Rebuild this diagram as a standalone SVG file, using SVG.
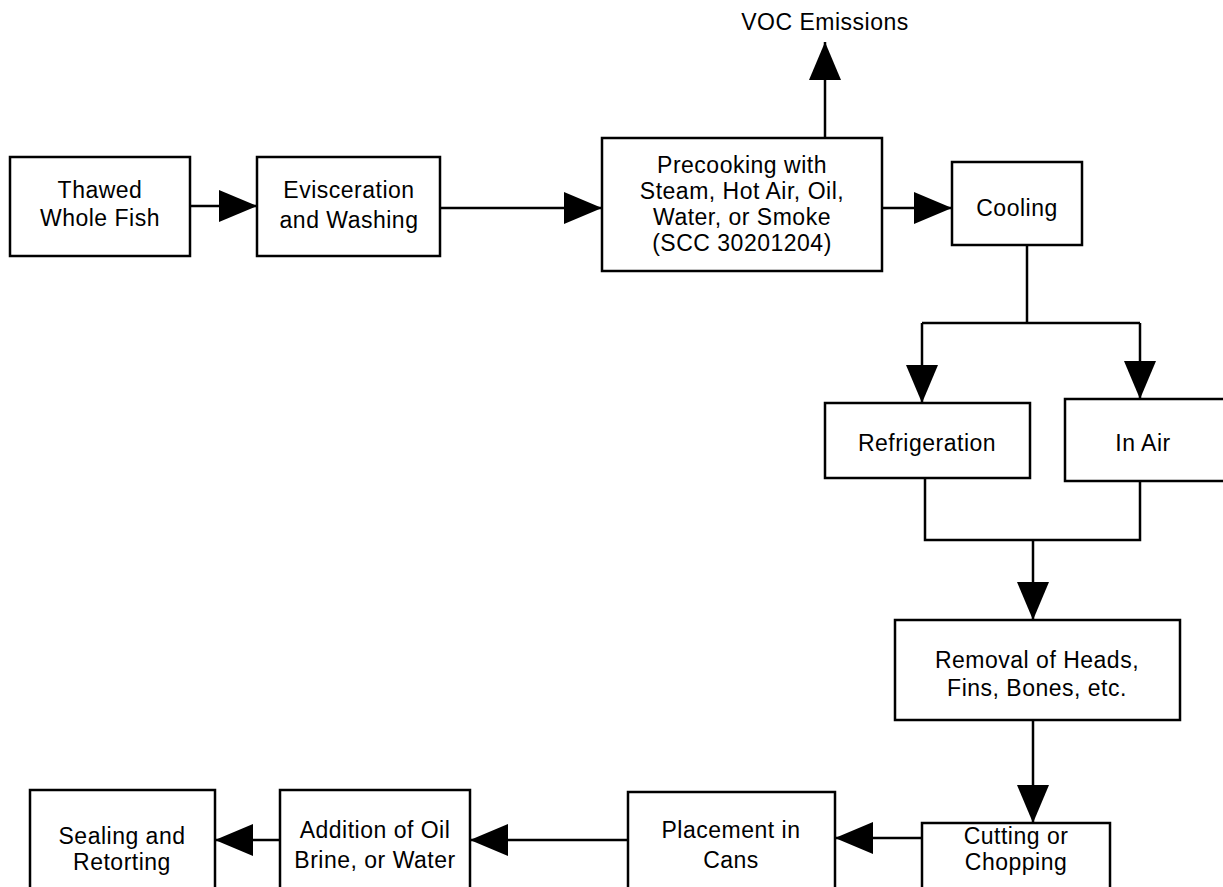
<svg xmlns="http://www.w3.org/2000/svg" width="1223" height="887" viewBox="0 0 1223 887">
<style>
.box{fill:#fff;stroke:#000;stroke-width:2.5}
.t{font-family:"Liberation Sans",Arial,sans-serif;font-size:23px;letter-spacing:0.5px;fill:#000;text-anchor:middle}
.c{fill:none;stroke:#000;stroke-width:2.5}
</style>
<defs>
<marker id="ah" viewBox="0 0 38 32" refX="38" refY="16" markerWidth="38" markerHeight="32" markerUnits="userSpaceOnUse" orient="auto">
<path d="M0,0 L38,16 L0,32 z" fill="#000"/>
</marker>
</defs>
<rect width="1223" height="887" fill="#fff"/>
<g id="connectors">
<line class="c" x1="190" y1="206" x2="257" y2="206" marker-end="url(#ah)"/>
<line class="c" x1="440" y1="208" x2="602" y2="208" marker-end="url(#ah)"/>
<line class="c" x1="825" y1="138" x2="825" y2="42" marker-end="url(#ah)"/>
<line class="c" x1="882" y1="208" x2="952" y2="208" marker-end="url(#ah)"/>
<polyline class="c" points="1027,245 1027,323"/>
<polyline class="c" points="922,323 1140,323"/>
<line class="c" x1="922" y1="323" x2="922" y2="403" marker-end="url(#ah)"/>
<line class="c" x1="1140" y1="323" x2="1140" y2="399" marker-end="url(#ah)"/>
<polyline class="c" points="925,478 925,540 1140,540 1140,481"/>
<line class="c" x1="1033" y1="540" x2="1033" y2="620" marker-end="url(#ah)"/>
<line class="c" x1="1033" y1="720" x2="1033" y2="823" marker-end="url(#ah)"/>
<line class="c" x1="922" y1="838" x2="835" y2="838" marker-end="url(#ah)"/>
<line class="c" x1="628" y1="840" x2="470" y2="840" marker-end="url(#ah)"/>
<line class="c" x1="280" y1="840" x2="215" y2="840" marker-end="url(#ah)"/>
</g>
<g id="voc"><text class="t" x="825" y="30">VOC Emissions</text></g>
<g id="thawed">
<rect class="box" x="10" y="157" width="180" height="99"/>
<text class="t" x="100" y="198">Thawed</text>
<text class="t" x="100" y="226">Whole Fish</text>
</g>
<g id="evisceration">
<rect class="box" x="257" y="157" width="183" height="99"/>
<text class="t" x="349" y="198">Evisceration</text>
<text class="t" x="349" y="228">and Washing</text>
</g>
<g id="precooking">
<rect class="box" x="602" y="138" width="280" height="133"/>
<text class="t" x="742" y="173">Precooking with</text>
<text class="t" x="742" y="199">Steam, Hot Air, Oil,</text>
<text class="t" x="742" y="225">Water, or Smoke</text>
<text class="t" x="742" y="251">(SCC 30201204)</text>
</g>
<g id="cooling">
<rect class="box" x="952" y="162" width="130" height="83"/>
<text class="t" x="1017" y="216">Cooling</text>
</g>
<g id="refrigeration">
<rect class="box" x="825" y="403" width="205" height="75"/>
<text class="t" x="927" y="451">Refrigeration</text>
</g>
<g id="inair">
<rect class="box" x="1065" y="399" width="165" height="82"/>
<text class="t" x="1143" y="451">In Air</text>
</g>
<g id="removal">
<rect class="box" x="895" y="620" width="285" height="100"/>
<text class="t" x="1037" y="668">Removal of Heads,</text>
<text class="t" x="1037" y="696">Fins, Bones, etc.</text>
</g>
<g id="cutting">
<rect class="box" x="922" y="823" width="188" height="70"/>
<text class="t" x="1016" y="844">Cutting or</text>
<text class="t" x="1016" y="870">Chopping</text>
</g>
<g id="placement">
<rect class="box" x="628" y="792" width="207" height="100"/>
<text class="t" x="731" y="838">Placement in</text>
<text class="t" x="731" y="868">Cans</text>
</g>
<g id="addition">
<rect class="box" x="280" y="790" width="190" height="102"/>
<text class="t" x="375" y="838">Addition of Oil</text>
<text class="t" x="375" y="868">Brine, or Water</text>
</g>
<g id="sealing">
<rect class="box" x="30" y="790" width="185" height="102"/>
<text class="t" x="122" y="844">Sealing and</text>
<text class="t" x="122" y="870">Retorting</text>
</g>
</svg>
